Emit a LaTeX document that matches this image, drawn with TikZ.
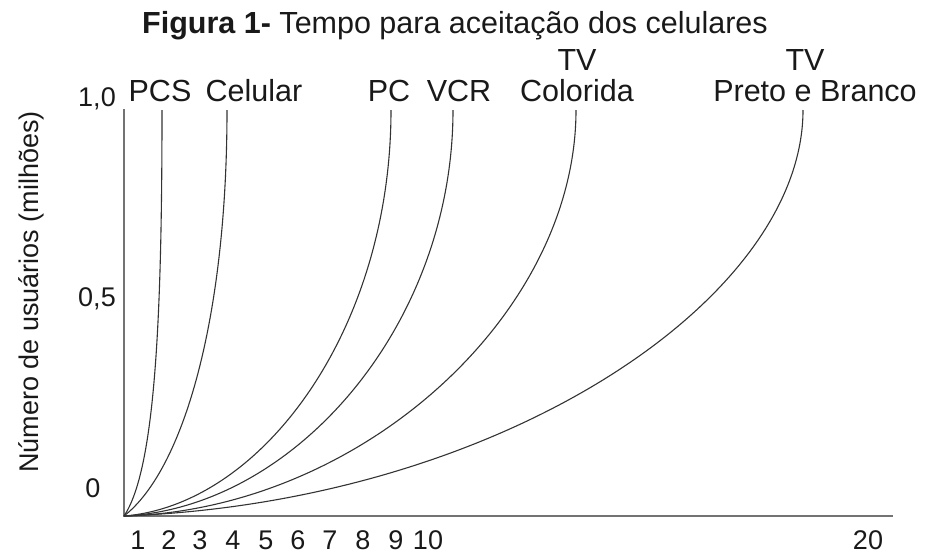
\documentclass[tikz,border=0pt]{standalone}
\usepackage{fontspec}
\setmainfont{Liberation Sans}
\begin{document}
\begin{tikzpicture}[x=1pt,y=-1pt,
  axis/.style={draw=black!55,line width=1.6pt},
  curve/.style={draw=black!80,line width=1.1pt},
  lbl/.style={font=\fontsize{30.5}{32}\selectfont,inner sep=0pt,anchor=base,text=black!90},
  num/.style={font=\fontsize{27}{29}\selectfont,inner sep=0pt,anchor=base,text=black!90},
  tick/.style={font=\fontsize{27}{29}\selectfont,inner sep=0pt,anchor=base,text=black!90}]
\useasboundingbox (0,0) rectangle (926,555);
% title
\node[lbl] (title) at (455,33) {\textbf{Figura 1-} Tempo para aceitação dos celulares};
% axes
\coordinate (O) at (124,516);
\coordinate (ytop) at (124,109);
\coordinate (xend) at (893,516);
\draw[axis] (ytop) -- (O) -- (xend);
% y labels
\node[num] (y10) at (97,106) {1,0};
\node[num] (y05) at (97,306) {0,5};
\node[num] (y00) at (93,497) {0};
\node[font=\fontsize{27}{29}\selectfont,inner sep=0pt,rotate=90,text=black!90] (ylab) at (31,292) {Número de usuários (milhões)};
% x tick labels
\foreach \n/\x in {1/138,2/169,3/200,4/233,5/266,6/298,7/330,8/363,9/396,10/428,20/868}
  \node[tick] (t\n) at (\x,549) {\n};
% curve labels
\node[lbl] (lpcs) at (160,101) {PCS};
\node[lbl] (lcel) at (254,101) {Celular};
\node[lbl] (lpc) at (389,101) {PC};
\node[lbl] (lvcr) at (459,101) {VCR};
\node[lbl] (ltv1) at (577,70) {TV};
\node[lbl] (lcol) at (577,101) {Colorida};
\node[lbl] (ltv2) at (805,70) {TV};
\node[lbl] (lpb) at (815,101) {Preto e Branco};
% curve tops
\coordinate (cpcs) at (162,110);
\coordinate (ccel) at (227,110);
\coordinate (cpc) at (391,110);
\coordinate (cvcr) at (453,110);
\coordinate (ccol) at (576,110);
\coordinate (cpb) at (803,110);
% curves
\draw[curve] (O) .. controls (155,470) and (162,320) .. (cpcs);
\draw[curve] (O) .. controls (183,470) and (227,320) .. (ccel);
\draw[curve] (O) .. controls (262,505) and (391,330) .. (cpc);
\draw[curve] (O) .. controls (295,508) and (453,325) .. (cvcr);
\draw[curve] (O) .. controls (360,510) and (576,315) .. (ccol);
\draw[curve] (O) .. controls (500,502) and (803,300) .. (cpb);
\end{tikzpicture}
\end{document}
